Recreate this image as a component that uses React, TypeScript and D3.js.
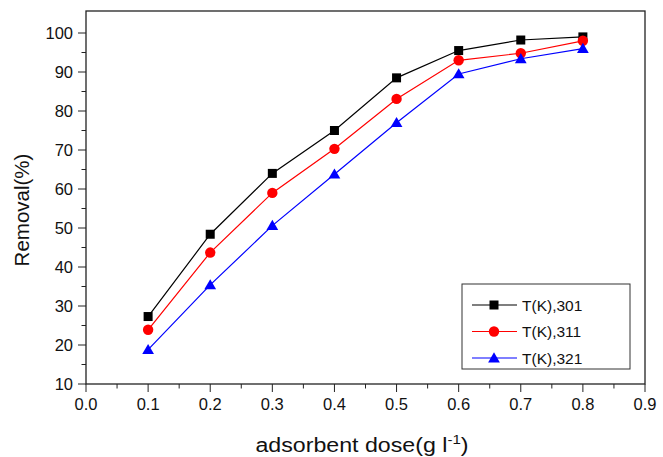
import * as d3 from "d3";

const doses = [0.1, 0.2, 0.3, 0.4, 0.5, 0.6, 0.7, 0.8];
const removal301 = [27.3, 48.4, 64.0, 75.0, 88.5, 95.5, 98.2, 99.0];
const removal311 = [23.9, 43.7, 59.0, 70.3, 83.1, 93.0, 94.8, 98.0];
const removal321 = [18.8, 35.4, 50.6, 63.8, 77.0, 89.5, 93.4, 96.0];
const seriesNames = ["T(K),301", "T(K),311", "T(K),321"];
const xTicks = [0, 0.1, 0.2, 0.3, 0.4, 0.5, 0.6, 0.7, 0.8, 0.9];
const yTicks = [10, 20, 30, 40, 50, 60, 70, 80, 90, 100];

const W = 663;
const H = 457;
const left = 86;
const right = 645;
const top = 11;
const bottom = 384;
const font = "'Liberation Sans', Arial, sans-serif";

const series = [
  { name: seriesNames[0], values: removal301, color: "#000000", shape: "square" },
  { name: seriesNames[1], values: removal311, color: "#ff0000", shape: "circle" },
  { name: seriesNames[2], values: removal321, color: "#0000ff", shape: "triangle" },
];

const x = d3.scaleLinear().domain([0, 0.9]).range([left, right]);
const y = d3.scaleLinear().domain([10, 10 + ((bottom - top) / 39) * 10]).range([bottom, top]);

function marker(shape: string, cx: number, cy: number, color: string, key: string) {
  if (shape === "square") {
    return <rect key={key} x={cx - 4.5} y={cy - 4.5} width={9} height={9} fill={color} />;
  }
  if (shape === "circle") {
    return <circle key={key} cx={cx} cy={cy} r={5.2} fill={color} />;
  }
  const p = d3.symbol(d3.symbolTriangle, 60)();
  return <path key={key} d={p || ""} transform={`translate(${cx},${cy + 1})`} fill={color} />;
}

export default function App() {
  const line = d3
    .line<number>()
    .x((_, i) => x(doses[i]))
    .y((d) => y(d));

  const xMinor = d3.range(0.05, 0.9, 0.1);
  const yMinor = d3.range(15, 101, 10);

  return (
    <svg width={W} height={H} style={{ position: "absolute", left: 0, top: 0, background: "#fff" }}>
      <rect x={left} y={top} width={right - left} height={bottom - top} fill="none" stroke="#222" strokeWidth={1.3} />

      {/* y axis ticks */}
      {yTicks.map((t) => (
        <g key={"y" + t}>
          <line x1={left - 8} x2={left} y1={y(t)} y2={y(t)} stroke="#222" />
          <text x={left - 13} y={y(t) + 6} textAnchor="end" fontSize={16.5} fontFamily={font} fill="#111">
            {t}
          </text>
        </g>
      ))}
      {yMinor.map((t) => (
        <line key={"ym" + t} x1={left - 4.5} x2={left} y1={y(t)} y2={y(t)} stroke="#222" />
      ))}

      {/* x axis ticks */}
      {xTicks.map((t) => (
        <g key={"x" + t}>
          <line x1={x(t)} x2={x(t)} y1={bottom} y2={bottom + 8} stroke="#222" />
          <text x={x(t)} y={bottom + 26} textAnchor="middle" fontSize={16.5} fontFamily={font} fill="#111">
            {t.toFixed(1)}
          </text>
        </g>
      ))}
      {xMinor.map((t) => (
        <line key={"xm" + t} x1={x(t)} x2={x(t)} y1={bottom} y2={bottom + 4.5} stroke="#222" />
      ))}

      {/* axis titles */}
      <g transform="translate(362,452) scale(1.16,1)">
        <text x={0} y={0} textAnchor="middle" fontSize={20} fontFamily={font} fill="#111">
          adsorbent dose(g l
          <tspan dy={-8} fontSize={13}>-1</tspan>
          <tspan dy={8}>)</tspan>
        </text>
      </g>
      <text
        transform="translate(29,210) rotate(-90)"
        textAnchor="middle"
        fontSize={20.5}
        fontFamily={font}
        fill="#111"
      >
        Removal(%)
      </text>

      {/* series */}
      {series.map((s) => (
        <g key={s.name}>
          <path d={line(s.values) || ""} fill="none" stroke={s.color} strokeWidth={1.2} />
          {s.values.map((v, i) => marker(s.shape, x(doses[i]), y(v), s.color, s.name + i))}
        </g>
      ))}

      {/* legend */}
      <rect x={462} y={284} width={168} height={85} fill="#fff" stroke="#333" strokeWidth={1} />
      {series.map((s, i) => {
        const ly = 305 + i * 26.5;
        return (
          <g key={"lg" + s.name}>
            <line x1={472} x2={517} y1={ly} y2={ly} stroke={s.color} strokeWidth={1.2} />
            {marker(s.shape, 494, ly, s.color, "lm" + i)}
            <text x={522} y={ly + 5.5} fontSize={15.5} fontFamily={font} fill="#111">
              {s.name}
            </text>
          </g>
        );
      })}
    </svg>
  );
}
